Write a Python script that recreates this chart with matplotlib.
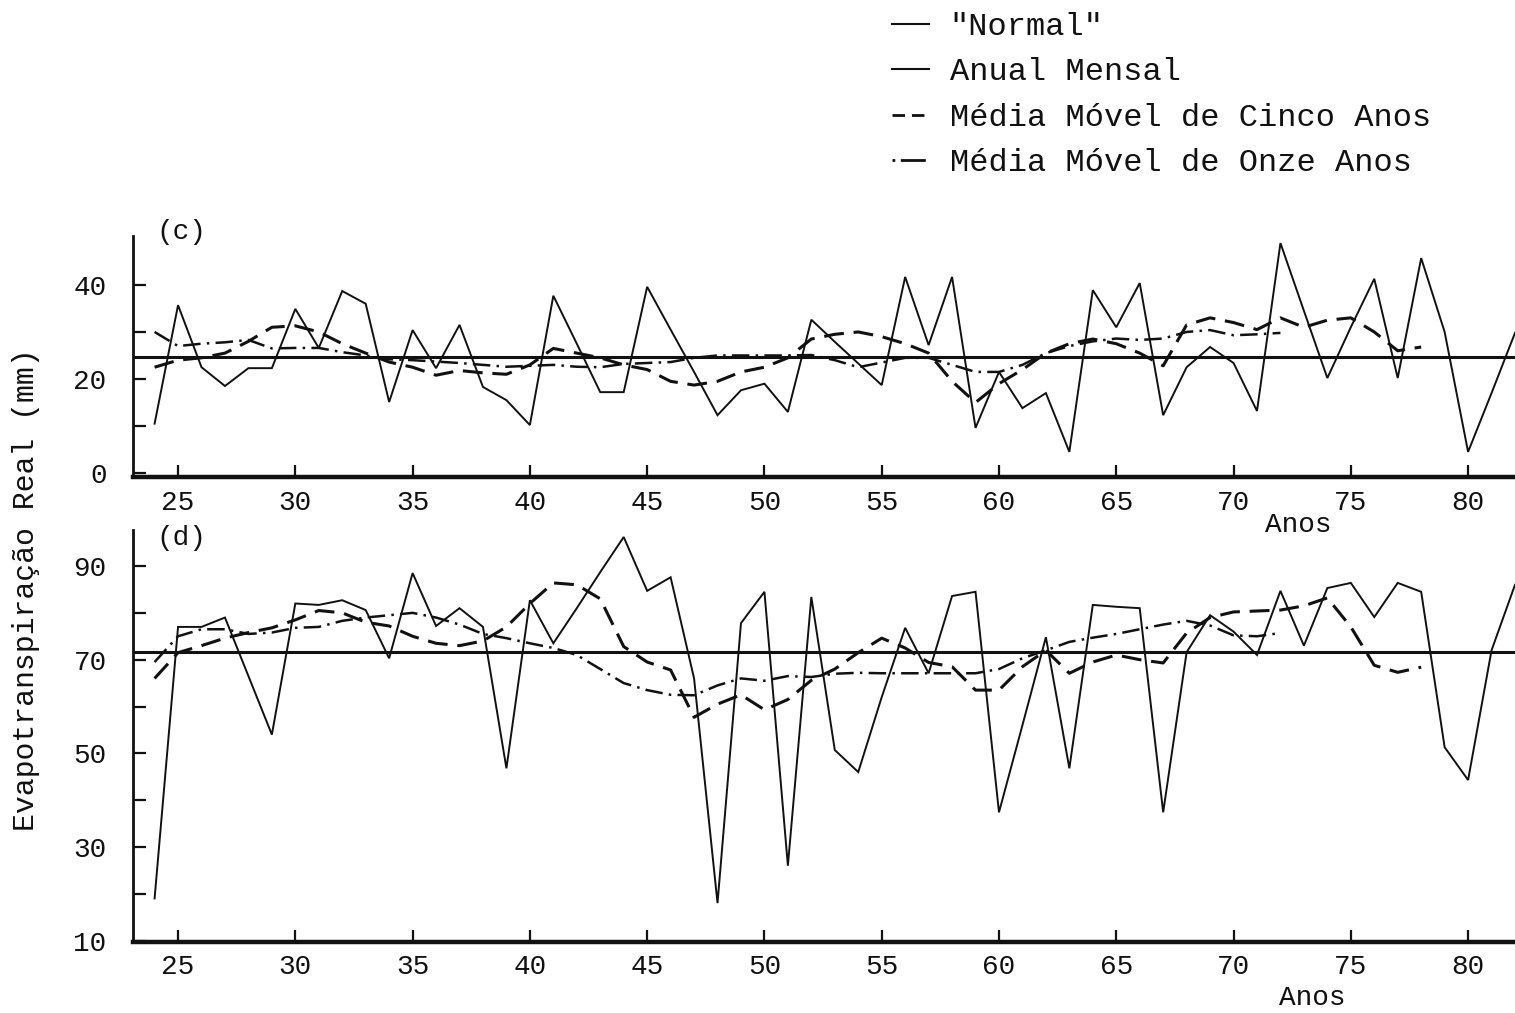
import matplotlib
matplotlib.use("Agg")
import matplotlib.pyplot as plt
from matplotlib.lines import Line2D

# Years 1924-1982 (two-digit labels on the axis)
years = list(range(24, 83))
years_ma5 = list(range(24, 79))
years_ma11 = list(range(24, 73))

# (c) annual series and running means, mm
anual_c = [10.5, 35.7, 22.5, 18.5, 22.3, 22.3, 34.9, 26.6, 38.7, 36.0,
           15.1, 30.4, 22.3, 31.5, 18.3, 15.5, 10.2, 37.7, 27.5, 17.2,
           17.2, 39.6, 30.5, 21.5, 12.3, 17.6, 19.0, 13.0, 32.6, 27.9,
           23.3, 18.7, 41.7, 27.2, 41.7, 9.6, 21.5, 13.8, 17.0, 4.5,
           38.9, 31.0, 40.4, 12.3, 22.5, 26.8, 23.4, 13.2, 48.9, 34.5,
           20.2, 31.0, 41.3, 20.2, 45.7, 30.0, 4.5, 17.0, 29.8]
ma5_c = [22.5, 24.0, 24.5, 25.5, 28.0, 31.0, 31.3, 30.0, 27.5, 25.5,
         23.6, 22.5, 20.8, 21.8, 21.3, 21.0, 23.0, 26.5, 25.5, 24.5,
         23.0, 22.0, 19.5, 18.7, 19.5, 21.5, 22.5, 24.5, 28.5, 29.5,
         30.0, 29.0, 27.5, 25.5, 19.5, 15.0, 19.0, 22.0, 25.5, 27.5,
         28.5, 27.5, 25.5, 22.8, 31.5, 33.0, 32.0, 30.5, 33.0, 31.0,
         32.5, 33.0, 30.0, 26.0, 26.8]
ma11_c = [30.0, 27.0, 27.5, 27.8, 28.3, 26.5, 26.6, 26.6, 25.7, 25.0,
          24.2, 24.0, 23.7, 23.4, 23.0, 22.6, 22.8, 23.0, 22.6, 22.5,
          23.2, 23.4, 23.6, 24.5, 25.0, 25.0, 25.0, 25.0, 25.1, 24.0,
          22.5, 23.5, 24.5, 24.5, 23.0, 21.5, 21.5, 23.0, 25.5, 27.0,
          28.0, 28.6, 28.3, 28.6, 30.0, 30.4, 29.3, 29.5, 29.8]
normal_c = 24.7

# (d) annual series and running means, mm
anual_d = [19.0, 77.0, 77.0, 79.0, 66.5, 54.0, 82.0, 81.7, 82.7, 80.6,
           70.3, 88.5, 77.2, 81.0, 77.0, 46.8, 82.7, 73.5, 81.0, 88.7,
           96.2, 84.7, 87.6, 66.0, 18.0, 77.8, 84.5, 26.0, 83.4, 50.7,
           46.0, 62.0, 76.8, 67.1, 83.6, 84.5, 37.4, 56.0, 74.8, 46.8,
           81.7, 81.3, 81.0, 37.4, 71.6, 79.5, 76.0, 71.0, 84.7, 73.0,
           85.3, 86.4, 79.1, 86.4, 84.5, 51.3, 44.3, 72.0, 86.0]
ma5_d = [66.0, 71.5, 73.0, 74.6, 75.8, 76.8, 78.5, 80.5, 80.0, 78.0,
         77.2, 75.0, 73.5, 73.0, 74.0, 77.0, 82.0, 86.4, 86.0, 83.0,
         72.8, 69.5, 67.8, 57.7, 60.5, 62.5, 59.3, 61.5, 65.6, 68.0,
         71.5, 74.6, 72.5, 69.4, 68.5, 63.5, 63.5, 68.5, 72.0, 67.1,
         69.5, 71.0, 70.0, 69.3, 75.7, 79.0, 80.2, 80.4, 80.6, 81.5,
         83.2, 77.0, 68.8, 67.3, 68.4]
ma11_d = [69.5, 75.0, 76.5, 76.5, 75.5, 75.8, 76.8, 77.0, 78.3, 79.0,
          79.5, 80.0, 79.0, 77.5, 75.5, 74.6, 73.5, 72.5, 71.0, 68.0,
          65.0, 63.5, 62.5, 62.4, 64.5, 66.0, 65.5, 66.5, 66.3, 67.0,
          67.2, 67.1, 67.1, 67.1, 67.1, 67.1, 68.0, 70.3, 72.0, 73.8,
          74.7, 75.5, 76.5, 77.5, 78.3, 77.3, 75.2, 75.0, 75.7]
normal_d = 71.6

xticks = list(range(25, 81, 5))
legend_labels = ['"Normal"', "Anual Mensal",
                 "Média Móvel de Cinco Anos", "Média Móvel de Onze Anos"]

FONT = "Liberation Mono"
INK = "#111111"
DASH = (0, (6.5, 3.2))
DASHDOT = (0, (7, 2.5, 1, 2.5))

plt.rcParams["font.family"] = FONT

fig = plt.figure(figsize=(15.15, 10.13), dpi=100)
ax_c = fig.add_axes([0.0878, 0.5291, 0.9122, 0.2379])
ax_d = fig.add_axes([0.0878, 0.0701, 0.9122, 0.4067])


def draw_panel(ax, anual, ma5, ma11, normal, ylim, major, minor, tag, tag_y, anos_xy):
    ax.patch.set_alpha(0)
    ax.axhline(normal, color=INK, lw=2.2)
    ax.plot(years, anual, color=INK, lw=1.4, solid_joinstyle="miter")
    ax.plot(years_ma5, ma5, color=INK, lw=2.2, linestyle=DASH)
    ax.plot(years_ma11, ma11, color=INK, lw=1.8, linestyle=DASHDOT)

    ax.set_xlim(23.08, 82.0)
    ax.set_ylim(*ylim)
    for side in ("top", "right"):
        ax.spines[side].set_visible(False)
    ax.spines["left"].set_linewidth(2.0)
    ax.spines["bottom"].set_linewidth(3.2)
    ax.spines["left"].set_color(INK)
    ax.spines["bottom"].set_color(INK)

    ax.set_xticks(xticks)
    ax.set_xticklabels([str(t) for t in xticks])
    ax.set_yticks(major)
    ax.set_yticklabels([str(t) for t in major])
    ax.set_yticks(minor, minor=True)
    ax.tick_params(axis="x", direction="in", length=9, width=1.6,
                   pad=9, labelsize=20, colors=INK)
    ax.tick_params(axis="y", which="both", direction="in", length=9,
                   width=1.6, pad=19, labelsize=20, colors=INK)

    ax.text(0.035, tag_y, tag, transform=ax.transAxes, fontsize=20,
            ha="center", va="center", color=INK)
    ax.text(anos_xy[0], anos_xy[1], "Anos", transform=ax.transAxes,
            fontsize=20, ha="center", va="center", color=INK, zorder=5)


draw_panel(ax_c, anual_c, ma5_c, ma11_c, normal_c, (-0.85, 50.4),
           [0, 20, 40], [10, 30], "(c)", 1.017, (0.843, -0.20))
draw_panel(ax_d, anual_d, ma5_d, ma11_d, normal_d, (9.7, 97.7),
           [10, 30, 50, 70, 90], [20, 40, 60, 80], "(d)", 0.98, (0.853, -0.136))

fig.text(0.017, 0.4176, "Evapotranspiração Real (mm)", rotation=90,
         fontsize=21.5, ha="center", va="center", color=INK)

handles = [
    Line2D([], [], color=INK, lw=1.5),
    Line2D([], [], color=INK, lw=1.5),
    Line2D([], [], color=INK, lw=2.0, linestyle=(0, (4.5, 2.5))),
    Line2D([], [], color=INK, lw=2.0, linestyle=(0, (1, 2, 8, 0))),
]
fig.legend(handles, legend_labels, loc="upper left",
           bbox_to_anchor=(0.589, 0.988), frameon=False, fontsize=23,
           handlelength=1.15, handletextpad=0.65, labelspacing=0.48,
           borderpad=0, borderaxespad=0, labelcolor=INK)

fig.savefig("out.png", dpi=100, facecolor="white")
